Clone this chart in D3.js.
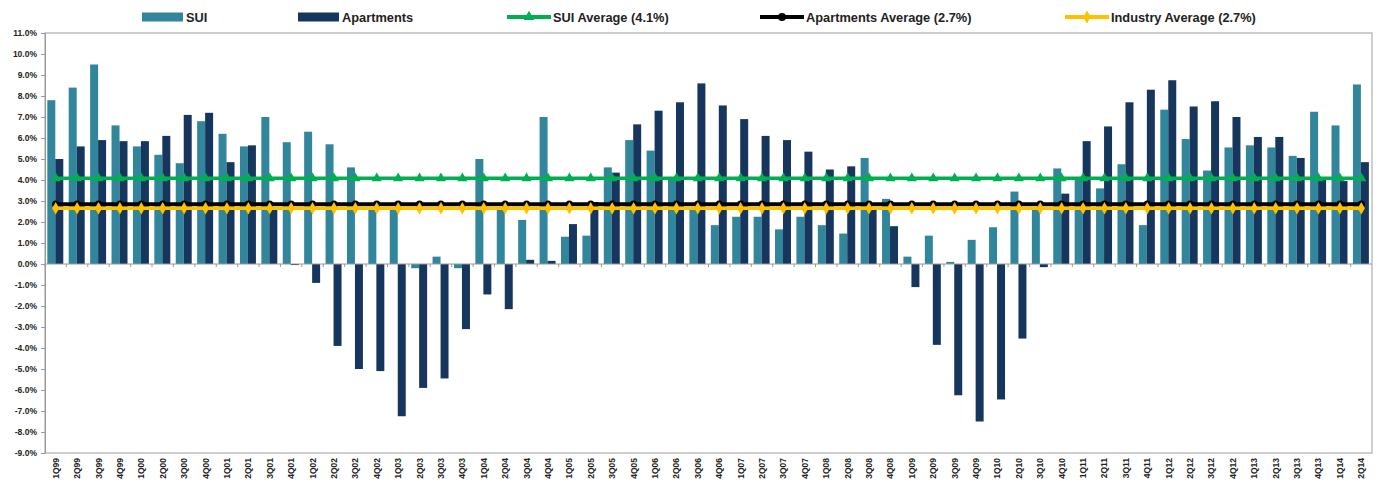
<!DOCTYPE html>
<html>
<head>
<meta charset="utf-8">
<script src="https://cdn.jsdelivr.net/npm/d3@7"></script>
<style>
  body { margin: 0; background: #fff; }
  svg { display: block; font-family: "Liberation Sans", Arial, sans-serif; }
  .lab { font-weight: bold; fill: #222; }
</style>
</head>
<body>
<svg id="chart" width="1380" height="486"></svg>
<script>
var quarters = ['1Q99','2Q99','3Q99','4Q99','1Q00','2Q00','3Q00','4Q00','1Q01','2Q01','3Q01','4Q01',
  '1Q02','2Q02','3Q02','4Q02','1Q03','2Q03','3Q03','4Q03','1Q04','2Q04','3Q04','4Q04',
  '1Q05','2Q05','3Q05','4Q05','1Q06','2Q06','3Q06','4Q06','1Q07','2Q07','3Q07','4Q07',
  '1Q08','2Q08','3Q08','4Q08','1Q09','2Q09','3Q09','4Q09','1Q10','2Q10','3Q10','4Q10',
  '1Q11','2Q11','3Q11','4Q11','1Q12','2Q12','3Q12','4Q12','1Q13','2Q13','3Q13','4Q13',
  '1Q14','2Q14'];

var sui = [7.8, 8.4, 9.5, 6.6, 5.6, 5.2, 4.8, 6.8, 6.2, 5.6, 7.0, 5.8,
  6.3, 5.7, 4.6, 2.7, 2.7, -0.2, 0.35, -0.2, 5.0, 2.7, 2.1, 7.0,
  1.3, 1.35, 4.6, 5.9, 5.4, 4.0, 2.6, 1.85, 2.25, 2.25, 1.65, 2.25,
  1.85, 1.45, 5.05, 3.1, 0.35, 1.35, 0.1, 1.15, 1.75, 3.45, 2.6, 4.55,
  4.0, 3.6, 4.75, 1.85, 7.35, 5.95, 4.45, 5.55, 5.65, 5.55, 5.15, 7.25,
  6.6, 8.55];

var apartments = [5.0, 5.6, 5.9, 5.85, 5.85, 6.1, 7.1, 7.2, 4.85, 5.65, 2.7, -0.05,
  -0.9, -3.9, -5.0, -5.1, -7.25, -5.9, -5.45, -3.1, -1.45, -2.15, 0.2, 0.15,
  1.9, 2.95, 4.35, 6.65, 7.3, 7.7, 8.6, 7.55, 6.9, 6.1, 5.9, 5.35,
  4.5, 4.65, 2.6, 1.8, -1.1, -3.85, -6.25, -7.5, -6.45, -3.55, -0.15, 3.35,
  5.85, 6.55, 7.7, 8.3, 8.75, 7.5, 7.75, 7.0, 6.05, 6.05, 5.05, 4.0,
  3.95, 4.85];

var suiAvg = 4.08;
var aptAvg = 2.85;
var industryAvg = 2.65;

var yTicks = [-9,-8,-7,-6,-5,-4,-3,-2,-1,0,1,2,3,4,5,6,7,8,9,10,11];

var TEAL = '#31869b', NAVY = '#17365d', GREEN = '#00b050', GOLD = '#ffc000', GRID = '#bfbfbf';

var svg = d3.select('#chart');
var plotLeft = 45, plotRight = 1372, plotTop = 33, plotBottom = 453;

var x = d3.scaleBand().domain(quarters).range([plotLeft, plotRight]);
var xs = d3.scaleBand().domain(['sui', 'apt']).range([0, x.bandwidth()]).paddingOuter(0.34);
var y = d3.scaleLinear().domain([-9, 11]).range([plotBottom, plotTop]);

// plot frame
svg.append('rect')
    .attr('x', plotLeft).attr('y', plotTop)
    .attr('width', plotRight - plotLeft).attr('height', plotBottom - plotTop)
    .attr('fill', 'none').attr('stroke', GRID).attr('stroke-width', 1.5);

// y axis
var yAxis = svg.append('g')
    .attr('transform', 'translate(' + plotLeft + ',0)')
    .call(d3.axisLeft(y).tickValues(yTicks).tickSize(4).tickFormat(function(d){ return d.toFixed(1) + '%'; }));
yAxis.select('.domain').attr('stroke', '#999');
yAxis.selectAll('.tick line').attr('stroke', '#999');
yAxis.selectAll('text')
    .attr('class', 'lab')
    .style('font-size', '8.5px')
    .attr('x', -8);

// bars
var rows = quarters.map(function(q, i){ return {q: q, sui: sui[i], apt: apartments[i]}; });
var groups = svg.append('g').selectAll('g')
    .data(rows)
    .enter()
    .append('g')
        .attr('transform', function(d){ return 'translate(' + x(d.q) + ',0)'; });

groups.append('rect')
    .attr('x', xs('sui') - 0.4)
    .attr('width', xs.bandwidth())
    .attr('y', function(d){ return y(Math.max(0, d.sui)); })
    .attr('height', function(d){ return Math.abs(y(d.sui) - y(0)); })
    .attr('fill', TEAL);

groups.append('rect')
    .attr('x', xs('apt') - 0.4)
    .attr('width', xs.bandwidth())
    .attr('y', function(d){ return y(Math.max(0, d.apt)); })
    .attr('height', function(d){ return Math.abs(y(d.apt) - y(0)); })
    .attr('fill', NAVY);

// zero axis with category ticks
svg.append('line')
    .attr('x1', plotLeft).attr('x2', plotRight)
    .attr('y1', y(0)).attr('y2', y(0))
    .attr('stroke', '#999').attr('stroke-width', 1.2);
svg.append('g').selectAll('line')
    .data(quarters)
    .enter()
    .append('line')
        .attr('x1', function(d){ return x(d); })
        .attr('x2', function(d){ return x(d); })
        .attr('y1', y(0)).attr('y2', y(0) + 3)
        .attr('stroke', '#999');

// category labels
svg.append('g').selectAll('text')
    .data(quarters)
    .enter()
    .append('text')
        .attr('class', 'lab')
        .style('font-size', '8.5px')
        .attr('text-anchor', 'end')
        .attr('transform', function(d){ return 'translate(' + (x(d) + x.bandwidth() / 2 + 3) + ',' + (plotBottom + 5) + ') rotate(-90)'; })
        .text(function(d){ return d; });

// average lines
function cx(q){ return x(q) + x.bandwidth() / 2; }
var first = cx(quarters[0]), last = cx(quarters[quarters.length - 1]);

function avgLine(val, color, width, shape, size){
    svg.append('line')
        .attr('x1', first).attr('x2', last)
        .attr('y1', y(val)).attr('y2', y(val))
        .attr('stroke', color).attr('stroke-width', width);
    svg.append('g').selectAll('path')
        .data(quarters)
        .enter()
        .append('path')
            .attr('transform', function(d){ return 'translate(' + cx(d) + ',' + y(val) + ')'; })
            .attr('d', d3.symbol().type(shape).size(size))
            .attr('fill', color);
}
avgLine(aptAvg, '#000', 4, d3.symbolCircle, 40);
avgLine(industryAvg, GOLD, 3.5, d3.symbolDiamond, 45);
avgLine(suiAvg, GREEN, 3.5, d3.symbolTriangle, 45);

// legend
var legend = svg.append('g').attr('class', 'legend');
var ly = 17;
var items = [
    {label: 'SUI', x: 142, kind: 'rect', color: TEAL},
    {label: 'Apartments', x: 298, kind: 'rect', color: NAVY},
    {label: 'SUI Average (4.1%)', x: 507, kind: 'line', color: GREEN, shape: d3.symbolTriangle},
    {label: 'Apartments Average (2.7%)', x: 760, kind: 'line', color: '#000', shape: d3.symbolCircle},
    {label: 'Industry Average (2.7%)', x: 1065, kind: 'line', color: GOLD, shape: d3.symbolDiamond}
];
items.forEach(function(it){
    if (it.kind === 'rect') {
        legend.append('rect')
            .attr('x', it.x).attr('y', ly - 4.5)
            .attr('width', 41).attr('height', 9)
            .attr('fill', it.color);
    } else {
        legend.append('line')
            .attr('x1', it.x).attr('x2', it.x + 44)
            .attr('y1', ly).attr('y2', ly)
            .attr('stroke', it.color).attr('stroke-width', 4);
        legend.append('path')
            .attr('transform', 'translate(' + (it.x + 22) + ',' + ly + ')')
            .attr('d', d3.symbol().type(it.shape).size(50))
            .attr('fill', it.color);
    }
    legend.append('text')
        .attr('class', 'lab')
        .style('font-size', '12.8px')
        .attr('x', it.x + (it.kind === 'rect' ? 44 : 46))
        .attr('y', ly + 4.5)
        .text(it.label);
});
</script>
</body>
</html>
